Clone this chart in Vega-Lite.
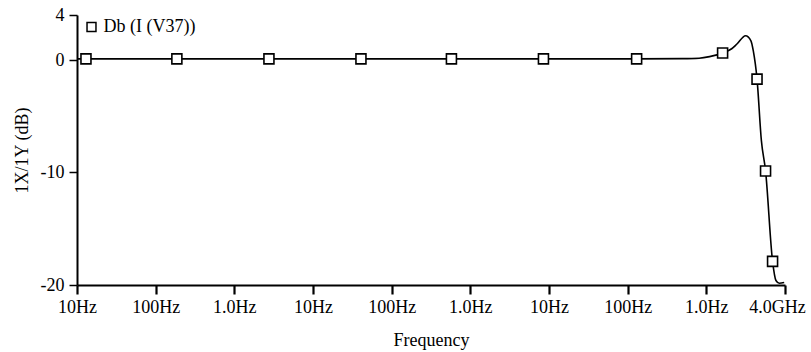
{
  "$schema": "https://vega.github.io/schema/vega-lite/v6.json",
  "width": 708,
  "height": 270,
  "autosize": {"type": "none"},
  "padding": {"left": 77, "top": 15, "right": 26, "bottom": 67},
  "background": "white",
  "config": {
    "view": {"stroke": null},
    "font": "Liberation Serif",
    "axis": {
      "domainColor": "black",
      "domainWidth": 2,
      "tickColor": "black",
      "labelColor": "black",
      "titleColor": "black",
      "labelFont": "Liberation Serif",
      "titleFont": "Liberation Serif",
      "labelFontSize": 18,
      "titleFontSize": 18,
      "titleFontWeight": "normal",
      "grid": false
    }
  },
  "datasets": {
    "curve": [
      {"freq": 10, "db": 0.1},
      {"freq": 13, "db": 0.1},
      {"freq": 186, "db": 0.1},
      {"freq": 2754, "db": 0.1},
      {"freq": 40700, "db": 0.1},
      {"freq": 575000, "db": 0.1},
      {"freq": 8500000, "db": 0.1},
      {"freq": 130000000, "db": 0.1},
      {"freq": 500000000, "db": 0.12},
      {"freq": 810000000, "db": 0.16},
      {"freq": 1100000000, "db": 0.3},
      {"freq": 1610000000, "db": 0.62},
      {"freq": 2100000000, "db": 1.0},
      {"freq": 2450000000, "db": 1.42},
      {"freq": 3150000000, "db": 2.16},
      {"freq": 3690000000, "db": 1.71},
      {"freq": 3950000000, "db": 0.83},
      {"freq": 4410000000, "db": -1.7},
      {"freq": 5010000000, "db": -7.17},
      {"freq": 5660000000, "db": -9.86},
      {"freq": 6950000000, "db": -17.9},
      {"freq": 7670000000, "db": -19.6},
      {"freq": 8450000000, "db": -19.84},
      {"freq": 9770000000, "db": -19.78}
    ],
    "markers": [
      {"freq": 13, "db": 0.1, "series": "Db (I (V37))"},
      {"freq": 186, "db": 0.1, "series": "Db (I (V37))"},
      {"freq": 2754, "db": 0.1, "series": "Db (I (V37))"},
      {"freq": 40700, "db": 0.1, "series": "Db (I (V37))"},
      {"freq": 575000, "db": 0.1, "series": "Db (I (V37))"},
      {"freq": 8500000, "db": 0.1, "series": "Db (I (V37))"},
      {"freq": 130000000, "db": 0.1, "series": "Db (I (V37))"},
      {"freq": 1610000000, "db": 0.62, "series": "Db (I (V37))"},
      {"freq": 4410000000, "db": -1.7, "series": "Db (I (V37))"},
      {"freq": 5660000000, "db": -9.86, "series": "Db (I (V37))"},
      {"freq": 6950000000, "db": -17.9, "series": "Db (I (V37))"}
    ]
  },
  "layer": [
    {
      "data": {"name": "curve"},
      "mark": {"type": "line", "color": "black", "strokeWidth": 1.6, "interpolate": "monotone", "clip": true},
      "encoding": {
        "x": {
          "field": "freq",
          "type": "quantitative",
          "scale": {"type": "log", "domain": [10, 10000000000], "nice": false},
          "axis": {
            "title": "Frequency",
            "values": [10, 100, 1000, 10000, 100000, 1000000, 10000000, 100000000, 1000000000, 10000000000],
            "labelExpr": "['10Hz','100Hz','1.0Hz','10Hz','100Hz','1.0Hz','10Hz','100Hz','1.0Hz','4.0GHz'][round(log(datum.value)/LN10)-1]",
            "labelOffset": {"condition": {"test": "datum.value > 5000000000", "value": -8}, "value": 0},
            "tickSize": 9,
            "tickWidth": 2.2,
            "labelPadding": 4,
            "titlePadding": 15,
            "labelFlush": false
          }
        },
        "y": {
          "field": "db",
          "type": "quantitative",
          "scale": {"domain": [-20, 4], "nice": false, "zero": false},
          "axis": {
            "title": "1X/1Y (dB)",
            "values": [-20, -10, 0, 4],
            "labelExpr": "datum.value < 0 ? '-' + abs(datum.value) : '' + datum.value",
            "tickSize": 8,
            "tickWidth": 1.5,
            "labelPadding": 5,
            "titlePadding": 9
          }
        }
      }
    },
    {
      "data": {"name": "markers"},
      "mark": {"type": "point", "fill": "white", "stroke": "black", "strokeWidth": 1.6, "size": 100, "opacity": 1},
      "encoding": {
        "x": {"field": "freq", "type": "quantitative"},
        "y": {"field": "db", "type": "quantitative"},
        "shape": {
          "field": "series",
          "type": "nominal",
          "scale": {"range": ["square"]},
          "legend": {
            "title": null,
            "orient": "none",
            "legendX": 5.5,
            "legendY": 3,
            "symbolType": "square",
            "symbolSize": 80,
            "labelFont": "Liberation Serif",
            "labelFontSize": 18,
            "labelColor": "black",
            "labelOffset": 3,
            "encode": {
              "symbols": {
                "update": {
                  "fill": {"value": "white"},
                  "stroke": {"value": "black"},
                  "strokeWidth": {"value": 1.6},
                  "opacity": {"value": 1}
                }
              }
            }
          }
        }
      }
    }
  ]
}
